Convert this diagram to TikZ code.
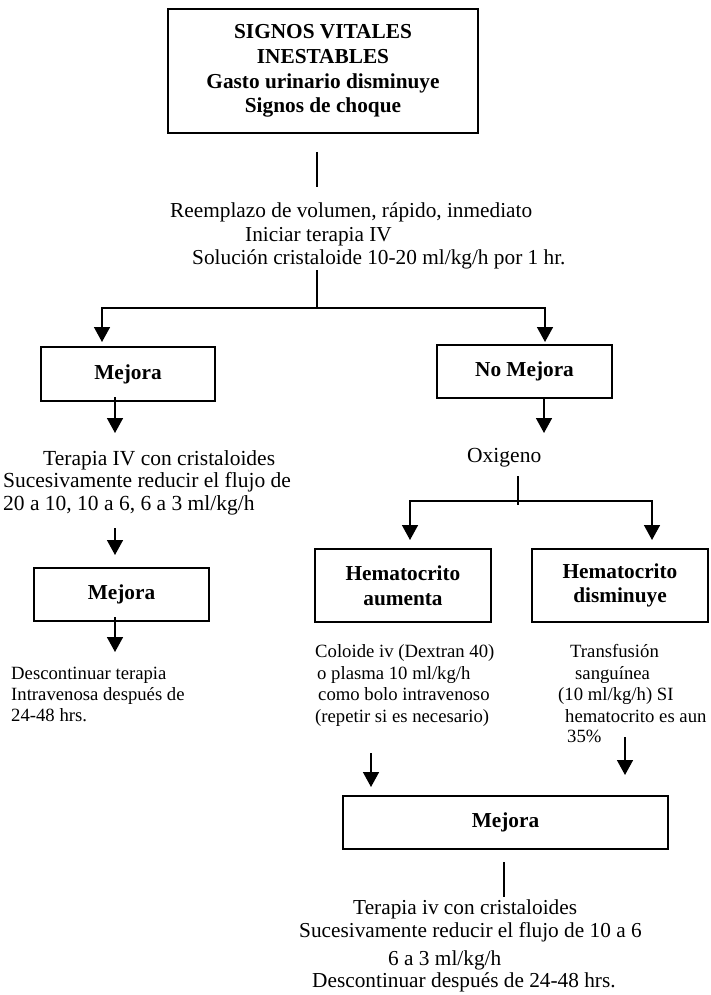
\documentclass[tikz,border=0pt]{standalone}
\usepackage{fontspec}
\setmainfont{Liberation Serif}
\usetikzlibrary{arrows.meta}
\begin{document}
\begin{tikzpicture}[x=1pt,y=-1pt,
  box/.style={draw, line width=1.6pt, inner sep=0pt, align=center,
    font=\bfseries\fontsize{21.3}{24.7}\selectfont},
  txt/.style={anchor=mid west, inner sep=0pt, font=\fontsize{21.3}{24}\selectfont},
  ltxt/.style={anchor=mid west, inner sep=0pt, font=\fontsize{21.5}{24}\selectfont},
  stxt/.style={anchor=mid west, inner sep=0pt, font=\fontsize{18.7}{22}\selectfont},
  conn/.style={line width=1.6pt},
  arr/.style={conn, -{Triangle[width=16pt,length=15pt]}}]
\useasboundingbox (0,0) rectangle (710,995);

% boxes
\node[box, minimum width=310pt, minimum height=124pt] (top) at (323,71)
  {SIGNOS VITALES\\INESTABLES\\Gasto urinario disminuye\\Signos de choque};
\node[box, minimum width=174pt, minimum height=54pt] (m1) at (128,374) {Mejora};
\node[box, minimum width=175pt, minimum height=53pt] (nm) at (524.5,371.5) {No Mejora};
\node[box, minimum width=175pt, minimum height=53pt] (m2) at (121.5,594.5) {Mejora};
\node[box, minimum width=176pt, minimum height=73pt] (ha) at (403,585.5) {Hematocrito\\aumenta};
\node[box, minimum width=176pt, minimum height=73pt] (hd) at (620,585.5) {Hematocrito\\disminuye};
\node[box, minimum width=325pt, minimum height=53pt] (m3) at (505.5,822.5) {Mejora};

% texts
\node[txt] (r1) at (170,215) {Reemplazo de volumen, rápido, inmediato};
\node[txt] (r2) at (245,239) {Iniciar terapia IV};
\node[txt] (r3) at (192,262) {Solución cristaloide 10-20 ml/kg/h por 1 hr.};

\node[ltxt] (l1) at (43,463) {Terapia IV con cristaloides};
\node[ltxt] (l2) at (3,485) {Sucesivamente reducir el flujo de};
\node[ltxt] (l3) at (3,508) {20 a 10, 10 a 6, 6 a 3 ml/kg/h};

\node[ltxt] (ox) at (467,460) {Oxigeno};

\node[stxt] (d1) at (11,677) {Descontinuar terapia};
\node[stxt] (d2) at (11,698) {Intravenosa después de};
\node[stxt] (d3) at (11,719) {24-48 hrs.};

\node[stxt] (c1) at (315,655) {Coloide iv (Dextran 40)};
\node[stxt] (c2) at (317,677) {o plasma 10 ml/kg/h};
\node[stxt] (c3) at (318,698) {como bolo intravenoso};
\node[stxt] (c4) at (315,720) {(repetir si es necesario)};

\node[stxt] (s1) at (570,655) {Transfusión};
\node[stxt] (s2) at (575,677) {sanguínea};
\node[stxt] (s3) at (558,698) {(10 ml/kg/h) SI};
\node[stxt] (s4) at (565,720) {hematocrito es aun};
\node[stxt] (s5) at (567,740) {35\%};

\node[txt] (b1) at (353,912) {Terapia iv con cristaloides};
\node[txt] (b2) at (299,935) {Sucesivamente reducir el flujo de 10 a 6};
\node[txt] (b3) at (388,963) {6 a 3 ml/kg/h};
\node[txt] (b4) at (312,985) {Descontinuar después de 24-48 hrs.};

% connector coordinates
\coordinate (a0) at (317,152); \coordinate (a1) at (317,187);
\coordinate (b0) at (317,270); \coordinate (bj) at (317,308);
\coordinate (tL) at (102,342); \coordinate (tR) at (545,342);
\coordinate (e0) at (115,397); \coordinate (e1) at (115,433);
\coordinate (f0) at (544,398); \coordinate (f1) at (544,433);
\coordinate (o0) at (518,476); \coordinate (oj) at (518,501);
\coordinate (o1) at (518,505);
\coordinate (hL) at (410,540); \coordinate (hR) at (652,540);
\coordinate (g0) at (115,528); \coordinate (g1) at (115,555);
\coordinate (k0) at (115,617); \coordinate (k1) at (115,652);
\coordinate (p0) at (371,753); \coordinate (p1) at (371,787);
\coordinate (q0) at (625,737); \coordinate (q1) at (625,775);
\coordinate (z0) at (504,862); \coordinate (z1) at (504,897);

\draw[conn] (a0) -- (a1);
\draw[conn] (b0) -- (bj);
\draw[arr] (bj) -| (tL);
\draw[arr] (bj) -| (tR);
\draw[arr] (e0) -- (e1);
\draw[arr] (f0) -- (f1);
\draw[conn] (o0) -- (o1);
\draw[arr] (oj) -| (hL);
\draw[arr] (oj) -| (hR);
\draw[arr] (g0) -- (g1);
\draw[arr] (k0) -- (k1);
\draw[arr] (p0) -- (p1);
\draw[arr] (q0) -- (q1);
\draw[conn] (z0) -- (z1);
\end{tikzpicture}
\end{document}
